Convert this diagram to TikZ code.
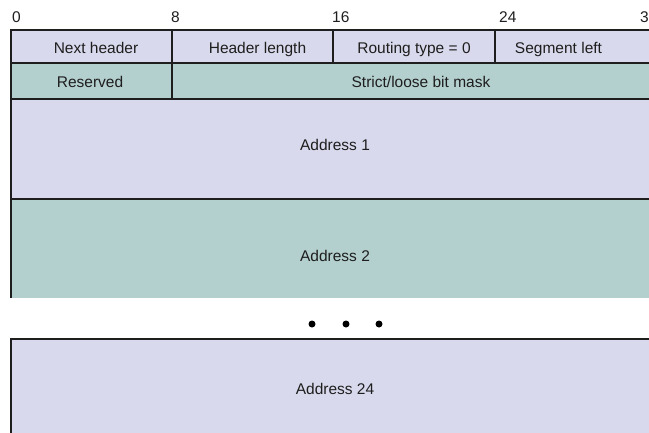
\documentclass[tikz,border=0pt]{standalone}
\usepackage{fontspec}
\setmainfont{Liberation Sans}
\definecolor{lav}{RGB}{216,217,236}
\definecolor{sage}{RGB}{179,207,206}
\definecolor{ink}{RGB}{30,30,30}
\begin{document}
\begin{tikzpicture}[x=1pt,y=-1pt,
  rule/.style={draw=ink,line width=1.3pt},
  field/.style={font=\fontsize{15.5}{18}\selectfont,text=ink,anchor=base,inner sep=0pt},
  bitpos/.style={font=\fontsize{15.5}{18}\selectfont,text=ink,anchor=base west,inner sep=0pt},
  dot/.style={circle,fill=black,inner sep=0pt,minimum size=7pt}]
\useasboundingbox (0,0) rectangle (649,432);
\clip (0,0) rectangle (649,432);

% bit positions
\node[bitpos] (b0)  at (12,22)  {0};
\node[bitpos] (b8)  at (171,22) {8};
\node[bitpos] (b16) at (332,22) {16};
\node[bitpos] (b24) at (499,22) {24};
\node[bitpos] (b32) at (640,22) {32};

% field backgrounds
\fill[lav]  (11,30)  rectangle (660,63);
\fill[sage] (11,63)  rectangle (660,99);
\fill[lav]  (11,99)  rectangle (660,199);
\fill[sage] (11,199) rectangle (660,298);
\fill[lav]  (11,339) rectangle (660,440);

% field borders
\draw[rule] (11,298) -- (11,30) -- (660,30);
\draw[rule] (11,63) -- (660,63);
\draw[rule] (11,99) -- (660,99);
\draw[rule] (11,199) -- (660,199);
\draw[rule] (172,30) -- (172,99);
\draw[rule] (333,30) -- (333,63);
\draw[rule] (495,30) -- (495,63);
\draw[rule] (11,440) -- (11,339) -- (660,339);

% field names
\node[field] (nh)  at (96,53.3)   {Next header};
\node[field] (hl)  at (257.5,53.3) {Header length};
\node[field] (rt)  at (414,53.3)  {Routing type = 0};
\node[field] (sl)  at (558.5,53.3) {Segment left};
\node[field] (rs)  at (90,87.7)   {Reserved};
\node[field] (bm)  at (421,87.7)  {Strict/loose bit mask};
\node[field] (a1)  at (335,150)   {Address 1};
\node[field] (a2)  at (335,261)   {Address 2};
\node[field] (a24) at (335,394)   {Address 24};

% elided addresses
\node[dot] (d1) at (312,324) {};
\node[dot] (d2) at (346,324) {};
\node[dot] (d3) at (379,324) {};
\end{tikzpicture}
\end{document}
